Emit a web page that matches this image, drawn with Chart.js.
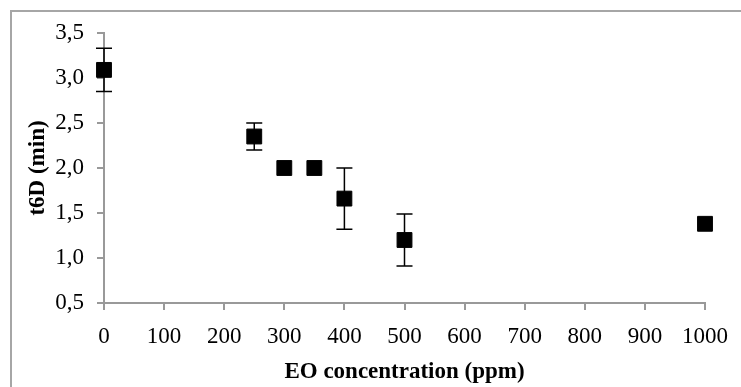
<!DOCTYPE html>
<html>
<head>
<meta charset="utf-8">
<script src="https://cdn.jsdelivr.net/npm/chart.js@4"></script>
<style>
  body { margin: 0; background: #fff; }
</style>
</head>
<body>
<canvas id="myChart" width="741" height="387"></canvas>
<script>
// Data
const concentration = [0, 250, 300, 350, 400, 500, 1000];
const t6D = [3.09, 2.35, 2.0, 2.0, 1.66, 1.2, 1.38];
const t6DError = [0.24, 0.15, 0, 0, 0.34, 0.29, 0];

const xTicks = [0, 100, 200, 300, 400, 500, 600, 700, 800, 900, 1000];
const yTicks = [0.5, 1.0, 1.5, 2.0, 2.5, 3.0, 3.5];

const fontFamily = "'Liberation Serif', 'Times New Roman', serif";

// Gray outer frame (top and left edges only are visible)
const frame = {
  id: "frame",
  beforeDraw(chart) {
    const { ctx, width, height } = chart;
    ctx.save();
    ctx.strokeStyle = "#a6a6a6";
    ctx.lineWidth = 2;
    ctx.beginPath();
    ctx.moveTo(11, height);
    ctx.lineTo(11, 11);
    ctx.lineTo(width, 11);
    ctx.stroke();
    ctx.restore();
  },
};

// Error bars drawn through the chart scales
const errorBars = {
  id: "errorBars",
  afterDatasetsDraw(chart) {
    const { ctx, scales } = chart;
    ctx.save();
    ctx.strokeStyle = "#000";
    ctx.lineWidth = 1.5;
    concentration.forEach((c, i) => {
      if (!t6DError[i]) return;
      const x = scales.x.getPixelForValue(c);
      const yTop = scales.y.getPixelForValue(t6D[i] + t6DError[i]);
      const yBot = scales.y.getPixelForValue(t6D[i] - t6DError[i]);
      ctx.beginPath();
      ctx.moveTo(x, yTop);
      ctx.lineTo(x, yBot);
      ctx.moveTo(x - 8, yTop);
      ctx.lineTo(x + 8, yTop);
      ctx.moveTo(x - 8, yBot);
      ctx.lineTo(x + 8, yBot);
      ctx.stroke();
    });
    ctx.restore();
  },
};

const ctx = document.getElementById("myChart").getContext("2d");

const myChart = new Chart(ctx, {
  type: "scatter",
  data: {
    datasets: [
      {
        data: concentration.map((c, i) => ({ x: c, y: t6D[i] })),
        pointStyle: "rect",
        pointRadius: 10.5,
        backgroundColor: "#000",
        borderColor: "#000",
        borderWidth: 1,
        clip: false,
      },
    ],
  },
  options: {
    responsive: false,
    animation: false,
    layout: { padding: { left: 0, right: 35, top: 33, bottom: 0 } },
    scales: {
      x: {
        type: "linear",
        min: 0,
        max: 1000,
        afterBuildTicks: (scale) => { scale.ticks = xTicks.map((v) => ({ value: v })); },
        afterFit: (scale) => { scale.height = 84; },
        ticks: {
          color: "#000",
          padding: 13,
          maxRotation: 0,
          font: { family: fontFamily, size: 23 },
          callback: (v) => String(v),
        },
        grid: { drawOnChartArea: false, tickLength: 7, color: "#999", lineWidth: 2 },
        border: { color: "#999", width: 2 },
        title: {
          display: true,
          text: "EO concentration (ppm)",
          color: "#000",
          font: { family: fontFamily, size: 23, weight: "bold" },
          padding: { top: 0, bottom: 1 },
        },
      },
      y: {
        min: 0.5,
        max: 3.5,
        afterBuildTicks: (scale) => { scale.ticks = yTicks.map((v) => ({ value: v })); },
        afterFit: (scale) => { scale.width = 104; },
        ticks: {
          color: "#000",
          padding: 13,
          font: { family: fontFamily, size: 23 },
          callback: (v) => v.toFixed(1).replace(".", ","),
        },
        grid: { drawOnChartArea: false, tickLength: 7, color: "#999", lineWidth: 2 },
        border: { color: "#999", width: 2 },
        title: {
          display: true,
          text: "t6D (min)",
          color: "#000",
          font: { family: fontFamily, size: 23, weight: "bold" },
          padding: { top: 24, bottom: 0 },
        },
      },
    },
    plugins: {
      legend: { display: false },
      tooltip: { enabled: false },
    },
  },
  plugins: [frame, errorBars],
});
</script>
</body>
</html>
